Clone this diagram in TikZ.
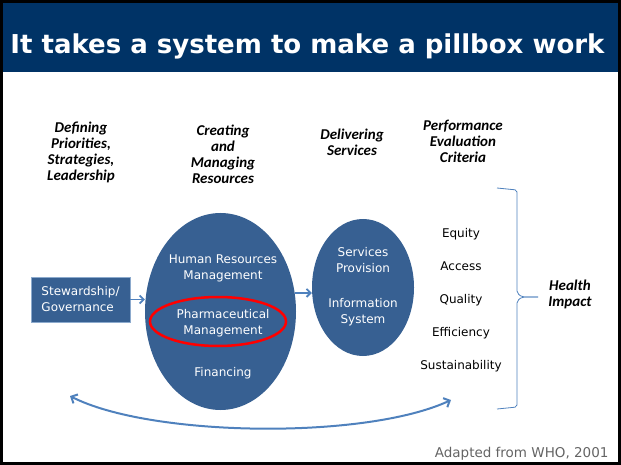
\documentclass[tikz,border=0pt]{standalone}
\usepackage{fontspec}
\setmainfont{DejaVu Sans}
\newfontfamily\headfont{Carlito}
\usetikzlibrary{arrows.meta,shapes.geometric}
\definecolor{barblue}{RGB}{0,51,102}
\definecolor{shapeblue}{RGB}{55,96,146}
\definecolor{lineblue}{RGB}{79,129,189}
\definecolor{edgeblue}{RGB}{140,170,205}
\definecolor{notegray}{RGB}{100,100,100}
\tikzset{
	heading/.style={align=center, font=\headfont\bfseries\itshape\fontsize{15}{16}\selectfont},
	intext/.style={align=center, text=white, font=\fontsize{12}{16}\selectfont},
	criterion/.style={anchor=base, font=\fontsize{12}{16}\selectfont},
	blob/.style={ellipse, fill=shapeblue, inner sep=0pt},
	arr/.style={lineblue, line width=1.8pt, -{Straight Barb[length=4pt,width=8pt]}}
}

\begin{document}
\begin{tikzpicture}[x=1pt,y=-1pt]
			%%%%% START %%%%%
			\useasboundingbox (0,0) rectangle (621,465);
			
			\fill[barblue] (0,0) rectangle (621,72);
			\node[anchor=base, text=white, font=\bfseries\fontsize{26}{30}\selectfont] (title) at (307.5,53.5) {It takes a system to make a pillbox work};
			
			\node[heading] (define) at (81,152) {Defining\\Priorities,\\Strategies,\\Leadership};
			\node[heading] (create) at (223,154) {Creating\\and\\Managing\\Resources};
			\node[heading] (deliver) at (352,142) {Delivering\\Services};
			\node[heading] (criteria) at (463,141) {Performance\\Evaluation\\Criteria};
			
			\node[rectangle, fill=shapeblue, draw=edgeblue, line width=0.6pt, minimum width=99pt, minimum height=45pt, inner sep=0pt, align=left, text=white, font=\fontsize{12}{16}\selectfont] (stew) at (80.5,299.5) {Stewardship/\\Governance};
			
			\node[blob, minimum width=151pt, minimum height=197pt] (res) at (220.5,311.5) {};
			\node[intext] (hrm) at (223,268) {Human Resources\\Management};
			\node[ellipse, draw=red, line width=2.5pt, minimum width=136pt, minimum height=49pt] (pharm) at (218,321.5) {};
			\node[intext] (pm) at (223,323.5) {Pharmaceutical\\Management};
			\node[intext] (fin) at (223,373) {Financing};
			
			\node[blob, minimum width=102pt, minimum height=137pt] (serv) at (363,287.5) {};
			\node[intext] (sp) at (363,260) {Services\\Provision};
			\node[intext] (is) at (363,312.5) {Information\\System};
			
			\draw[arr] (stew.east) -- (stew.east -| res.west);
			\draw[arr] (res.14) -- (res.14 -| serv.west);
			
			\node[criterion] (equity) at (461,237) {Equity};
			\node[criterion] (access) at (461,270) {Access};
			\node[criterion] (quality) at (461,303) {Quality};
			\node[criterion] (effic) at (461,336) {Efficiency};
			\node[criterion] (sustain) at (461,369) {Sustainability};
			
			% brace
			\draw[lineblue, line width=0.8pt, rounded corners=2pt] (497,188) -- (517,190) -- (517,293) -- (522,297) -- (538,297);
			\draw[lineblue, line width=0.8pt, rounded corners=2pt] (538,297) -- (522,297) -- (517,301) -- (517,407) -- (497,409);
			\node[heading] (impact) at (570,294.5) {Health\\Impact};
			
			\coordinate (loopl) at (70,396);
			\coordinate (loopr) at (451,400);
			\draw[lineblue, line width=2pt, {Straight Barb[length=5pt,width=10pt]}-{Straight Barb[length=5pt,width=10pt]}] (loopl) .. controls (150,437) and (365,440) .. (loopr);
			
			\node[anchor=base east, text=notegray, font=\fontsize{13.5}{16}\selectfont] (source) at (612,457) {Adapted from WHO, 2001};
			
			\draw[black, line width=3pt] (1.5,1.5) rectangle (619.5,463.5);
			%%%%% END %%%%%
\end{tikzpicture}
\end{document}
